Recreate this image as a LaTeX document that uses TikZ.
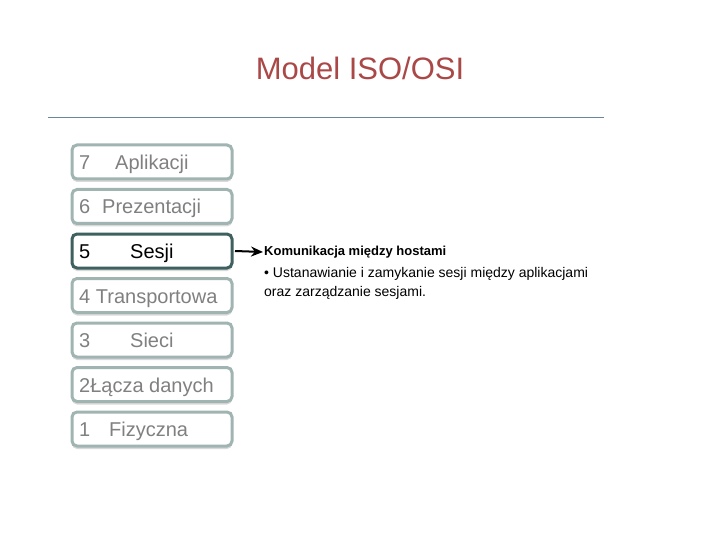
\documentclass[tikz,border=0pt]{standalone}
\usepackage{fontspec}
\setmainfont{Liberation Sans}
\usetikzlibrary{shadows,arrows.meta}
\definecolor{titlered}{RGB}{170,72,72}
\definecolor{rulecol}{RGB}{105,135,155}
\definecolor{boxedge}{RGB}{160,180,178}
\definecolor{boxedgedark}{RGB}{62,96,94}
\definecolor{laytext}{RGB}{128,128,128}
\begin{document}
\begin{tikzpicture}[x=1pt,y=-1pt,
  layer/.style={draw=boxedge,line width=3pt,rounded corners=5pt,fill=white,
    minimum width=160pt,minimum height=34pt,inner sep=0pt,
    drop shadow={shadow xshift=0pt,shadow yshift=-3pt,opacity=0.3,fill=gray}},
  active/.style={layer,draw=boxedgedark},
  ltxt/.style={anchor=base west,text=laytext,font=\fontsize{20}{24}\selectfont,inner sep=0pt},
  atxt/.style={ltxt,text=black}]
\useasboundingbox (0,0) rectangle (720,540);
\node[text=titlered,font=\fontsize{31}{36}\selectfont] (title) at (360,68) {Model ISO/OSI};
\coordinate (rl) at (48,118);
\coordinate (rr) at (604,118);
\draw[rulecol,line width=1pt] (rl) -- (rr);

\node[layer] (l7) at (152,162) {};
\node[layer] (l6) at (152,206.5) {};
\node[active] (l5) at (152,251) {};
\node[layer] (l4) at (152,295.5) {};
\node[layer] (l3) at (152,340) {};
\node[layer] (l2) at (152,384.5) {};
\node[layer] (l1) at (152,429) {};

\node[ltxt] (n7) at (79,169.5) {7};
\node[ltxt] (t7) at (115,169.5) {Aplikacji};
\node[ltxt] (n6) at (79,214) {6};
\node[ltxt] (t6) at (102,214) {Prezentacji};
\node[atxt] (n5) at (79,258.5) {5};
\node[atxt] (t5) at (130,258.5) {Sesji};
\node[ltxt] (t4) at (79,303) {4 Transportowa};
\node[ltxt] (n3) at (79,347.5) {3};
\node[ltxt] (t3) at (130,347.5) {Sieci};
\node[ltxt] (t2) at (79,392) {2Łącza danych};
\node[ltxt] (n1) at (79,436.5) {1};
\node[ltxt] (t1) at (109,436.5) {Fizyczna};

\node[anchor=west,inner sep=0pt,font=\bfseries\fontsize{13}{15}\selectfont] (head) at (264,252) {Komunikacja między hostami};
\node[anchor=north west,inner sep=0pt,align=left,font=\fontsize{14}{19.5}\selectfont] (body) at (264,267)
  {• Ustanawianie i zamykanie sesji między aplikacjami\\oraz zarządzanie sesjami.};
\draw[-{Stealth[length=12pt,width=10pt]},line width=2pt] (l5.east) ++(1.5,0) -- ([xshift=-1pt]head.west);
\end{tikzpicture}
\end{document}
